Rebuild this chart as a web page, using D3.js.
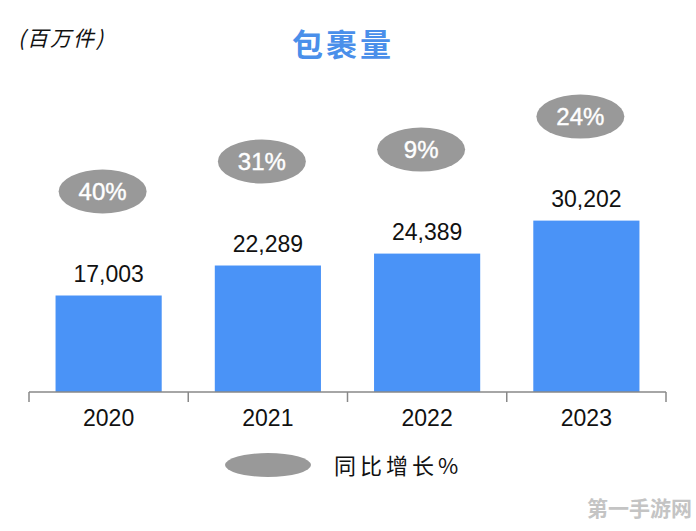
<!DOCTYPE html>
<html><head><meta charset="utf-8">
<script src="https://cdn.jsdelivr.net/npm/d3@7"></script>
<style>body{margin:0;background:#fff}svg{display:block}</style>
</head><body><svg id="c" width="696" height="531"></svg>
<script>
const years = ["2020","2021","2022","2023"];
const parcels = [17003, 22289, 24389, 30202];
const growth = ["40%","31%","9%","24%"];
const title = "包裹量";
const unit = "(百万件)";
const legendLabel = "同比增长%";
const watermark = "第一手游网";

const svg = d3.select("#c");
const x = d3.scaleBand().domain(years).range([29, 666]).paddingInner(1/3).paddingOuter(1/6);
const y = d3.scaleLinear().domain([0, 40000]).range([392, 165]);

const barColor = "#4a93f7";
const grey = "#999999";
const latin = "'Liberation Sans', Arial, sans-serif";
const cjk = "'Noto Sans CJK SC', sans-serif";

// title
svg.append("text").attr("x", 343).attr("y", 56).attr("text-anchor","middle")
  .attr("font-family", cjk).attr("font-weight", 700).attr("font-size", 31)
  .attr("fill", "#4a8fea").attr("letter-spacing", 3).text(title);
svg.append("text").attr("x", 18).attr("y", 46)
  .attr("font-family", cjk).attr("font-style","italic").attr("font-size", 21)
  .attr("letter-spacing", 2).attr("fill", "#111").text(unit);

// bars
svg.selectAll("rect.bar").data(parcels).join("rect").attr("class","bar")
  .attr("x", (d,i)=>x(years[i])).attr("width", x.bandwidth())
  .attr("y", d=>y(d)).attr("height", d=>y(0)-y(d)).attr("fill", barColor);

// value labels
svg.selectAll("text.val").data(parcels).join("text").attr("class","val")
  .attr("x", (d,i)=>x(years[i])+x.bandwidth()/2).attr("y", d=>y(d)-14)
  .attr("text-anchor","middle").attr("font-family", latin).attr("font-size", 23)
  .attr("fill","#111").text(d=>d3.format(",")(d));

// growth ellipses
const g = svg.selectAll("g.gr").data(parcels).join("g").attr("class","gr")
  .attr("transform",(d,i)=>`translate(${x(years[i])+x.bandwidth()/2-6},${y(d)-104})`);
g.append("ellipse").attr("rx",44).attr("ry",22).attr("fill",grey);
g.append("text").attr("y",8).attr("text-anchor","middle").attr("font-family",latin)
  .attr("font-size",24).attr("fill","#fff").attr("stroke","#fff").attr("stroke-width",0.4)
  .text((d,i)=>growth[i]);

// axis
const axis = svg.append("g").attr("transform",`translate(0,392)`);
axis.append("line").attr("x1",29).attr("x2",666).attr("stroke","#888").attr("stroke-width",1.5);
const edges = years.map(v=>x(v)-x.step()*x.paddingInner()/2).concat([666]);
edges[0] = 29;
axis.selectAll("line.tk").data(edges).join("line").attr("class","tk")
  .attr("x1",d=>d).attr("x2",d=>d).attr("y1",0).attr("y2",10).attr("stroke","#888").attr("stroke-width",1.5);
axis.selectAll("text.yr").data(years).join("text").attr("class","yr")
  .attr("x",d=>x(d)+x.bandwidth()/2).attr("y",34).attr("text-anchor","middle")
  .attr("font-family",latin).attr("font-size",23).attr("fill","#111").text(d=>d);

// legend
svg.append("ellipse").attr("cx",268).attr("cy",465).attr("rx",43).attr("ry",12).attr("fill",grey);
svg.append("text").attr("x",334).attr("y",474).attr("font-family",cjk).attr("font-size",22)
  .attr("letter-spacing",4).attr("fill","#111").text(legendLabel);

// watermark
svg.append("text").attr("x",692).attr("y",516).attr("text-anchor","end").attr("font-family",cjk)
  .attr("font-weight",700).attr("font-size",21).attr("fill","#c4c4c4").text(watermark);
</script></body></html>
